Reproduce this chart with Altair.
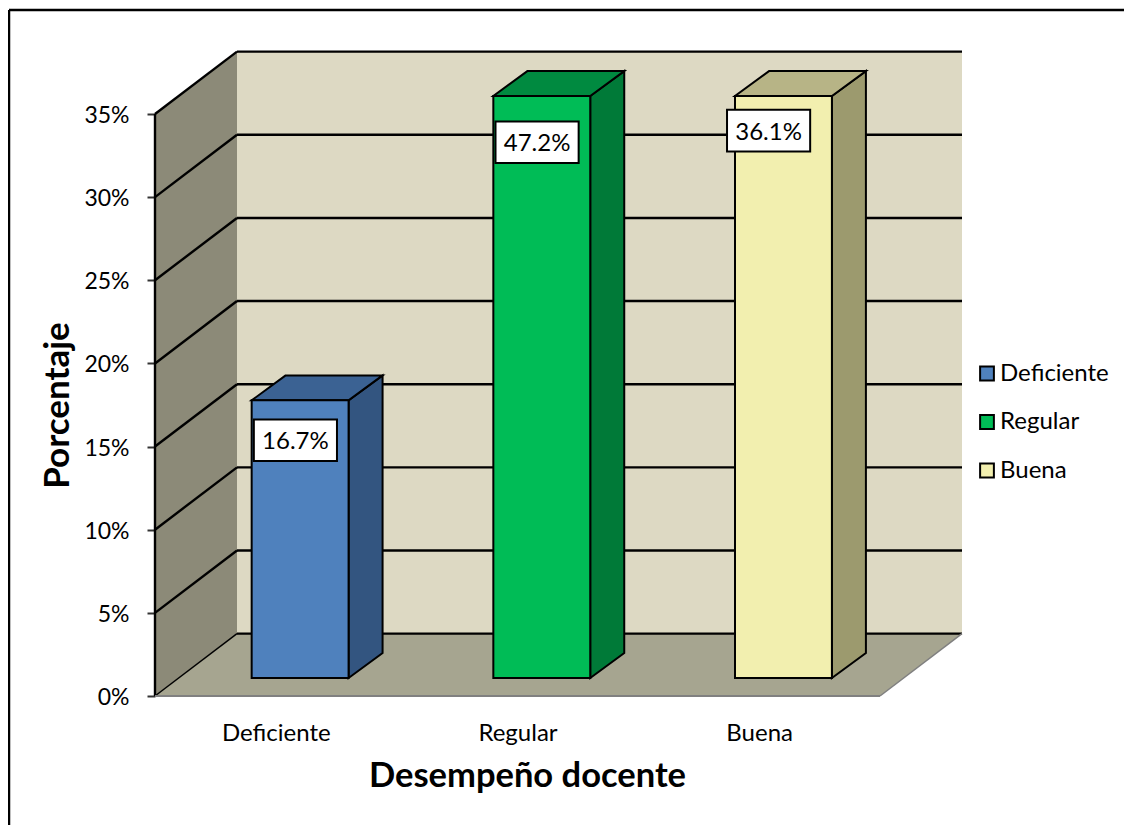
import altair as alt
import pandas as pd

CATEGORIES = ["Deficiente", "Regular", "Buena"]
VALUES = [16.7, 47.2, 36.1]
LABELS = ["16.7%", "47.2%", "36.1%"]
FRONT = ["#4F81BD", "#00BC56", "#F2EFAF"]
SIDE = ["#335580", "#007A38", "#9C9A6E"]
TOP = ["#3B6293", "#008A40", "#B7B486"]
TICKS = [0, 5, 10, 15, 20, 25, 30, 35]
LABEL_X = [0.581, 1.581, 2.539]
LABEL_Y = [15.38, 33.3, 34.0]

AX_MAX = 35
DX, DY = 0.3393, 3.75        # wall depth in axis units
BX, BY = 0.1407, 1.5         # bar depth
LIFT = 1.08                  # bars stand inside the floor
BAR_W = 0.401
BAR_START = 0.4
BOX_W, BOX_H = 0.172, 1.25
FONT = "Lato"

PW, PH = 807, 645
xs = alt.Scale(domain=[0, 3 + DX], range=[0, PW], nice=False, zero=False)
ys = alt.Scale(domain=[0, AX_MAX * PH / 582], range=[PH, 0], nice=False, zero=False)
xa = alt.Axis(values=[0.5, 1.5, 2.5], title="Desempeño docente", grid=False, domain=False, ticks=False,
              labelExpr="%r[floor(datum.value)]" % CATEGORIES, labelFontSize=24, labelFont=FONT,
              labelColor="#000000", labelPadding=25, titleFont=FONT, titleFontSize=34.5, titleFontWeight="bold",
              titleColor="#000000", titleX=372, titleY=80, titleAlign="center", titleBaseline="middle")
ya = alt.Axis(values=TICKS, title="Porcentaje", grid=False, domain=False, tickSize=8, tickColor="#333333",
              tickWidth=2, labelExpr="datum.value + '%'", labelFontSize=23, labelFont=FONT, labelColor="#000000",
              labelPadding=18, labelOffset=1.5, titleFont=FONT, titleFontSize=35, titleFontWeight="bold",
              titleColor="#000000", titleX=-98, titleY=354, titleAlign="center", titleBaseline="middle")


def X(f="x"):
    return alt.X(f, type="quantitative", scale=xs, axis=xa)


def Y(f="y"):
    return alt.Y(f, type="quantitative", scale=ys, axis=ya)


def v_poly(rows, **mk):
    """Parallelogram with vertical edges: rows of x, y, y2."""
    d = pd.DataFrame(rows, columns=["x", "y", "y2"])
    return alt.Chart(d).mark_area(**mk).encode(X(), Y(), y2="y2")


def h_poly(rows, **mk):
    """Parallelogram with horizontal edges: rows of y, x, x2."""
    d = pd.DataFrame(rows, columns=["y", "x", "x2"])
    return alt.Chart(d).mark_area(orient="horizontal", **mk).encode(X(), Y(), x2="x2")


def seg(x0, y0, x1, y1, color="#000000", w=2.4):
    d = pd.DataFrame({"x": [x0, x1], "y": [y0, y1]})
    return alt.Chart(d).mark_line(color=color, strokeWidth=w, clip=False).encode(X(), Y())


layers = []
# walls and floor
back = pd.DataFrame([{"x": DX, "x2": 3 + DX, "y": DY, "y2": AX_MAX + DY}])
layers.append(alt.Chart(back).mark_rect(color="#DDD9C3").encode(X(), x2="x2", y=Y(), y2="y2"))
layers.append(v_poly([[0, 0, AX_MAX], [DX, DY, AX_MAX + DY]], color="#8C8A78"))
layers.append(h_poly([[0, 0, 3], [DY, DX, 3 + DX]], color="#A6A590"))

# gridlines
for t in TICKS:
    layers.append(seg(DX, t + DY, 3 + DX, t + DY))
    layers.append(seg(0, t, DX, t + DY, w=2.4 if t else 1.5))
layers.append(seg(0, 0, 0, AX_MAX))
layers.append(seg(0, 0, 3, 0, color="#808080", w=2))
layers.append(seg(3, 0, 3 + DX, DY, color="#808080", w=1.5))

# bars
fronts = []
for i, (c, v) in enumerate(zip(CATEGORIES, VALUES)):
    l = i + BAR_START
    r = l + BAR_W
    top = LIFT + min(v, AX_MAX)
    layers.append(v_poly([[r, LIFT, top], [r + BX, LIFT + BY, top + BY]], color=SIDE[i], stroke="#000000", strokeWidth=2))
    layers.append(h_poly([[top, l, r], [top + BY, l + BX, r + BX]], color=TOP[i], stroke="#000000", strokeWidth=2))
    fronts.append({"cat": c, "x": l, "x2": r, "y": LIFT, "y2": top})

layers.append(
    alt.Chart(pd.DataFrame(fronts)).mark_rect(stroke="#000000", strokeWidth=2, opacity=1).encode(
        X(), x2="x2", y=Y(), y2="y2",
        color=alt.Color("cat:N",
                        scale=alt.Scale(domain=CATEGORIES, range=FRONT),
                        legend=alt.Legend(orient="none", legendX=820, legendY=310.5, title=None,
                                          symbolType="square", symbolSize=190, symbolStrokeColor="#000000",
                                          symbolStrokeWidth=2, symbolOpacity=1, labelFont=FONT, labelFontSize=24,
                                          labelColor="#000000", labelOffset=1, rowPadding=24.5, values=CATEGORIES))
    )
)

# data labels
boxes = pd.DataFrame({
    "x": [p - BOX_W for p in LABEL_X], "x2": [p + BOX_W for p in LABEL_X],
    "y": [p - BOX_H for p in LABEL_Y], "y2": [p + BOX_H for p in LABEL_Y],
    "cx": LABEL_X, "cy": LABEL_Y, "t": LABELS,
})
layers.append(alt.Chart(boxes).mark_rect(fill="#FFFFFF", stroke="#000000", strokeWidth=2).encode(X(), x2="x2", y=Y(), y2="y2"))
layers.append(alt.Chart(boxes).mark_text(font=FONT, fontSize=24, color="#000000", dy=2).encode(X("cx"), Y("cy"), text="t:N"))

# chart frame
frame = pd.DataFrame({"a": [0]})
layers.append(alt.Chart(frame).mark_rule(color="#000000", strokeWidth=2.5).encode(
    x=alt.value(-146), y=alt.value(-41), y2=alt.value(774)))
layers.append(alt.Chart(frame).mark_rule(color="#000000", strokeWidth=2.5).encode(
    x=alt.value(-146), x2=alt.value(969), y=alt.value(-41)))

chart = alt.layer(*layers).properties(
    width=PW, height=PH,
    padding={"left": 147, "top": 43, "right": 162, "bottom": 129},
    autosize=alt.AutoSizeParams(type="none"),
    background="#FFFFFF",
).configure_view(stroke=None)

chart.save("out.html", embed_options={"renderer": "svg", "actions": False})
